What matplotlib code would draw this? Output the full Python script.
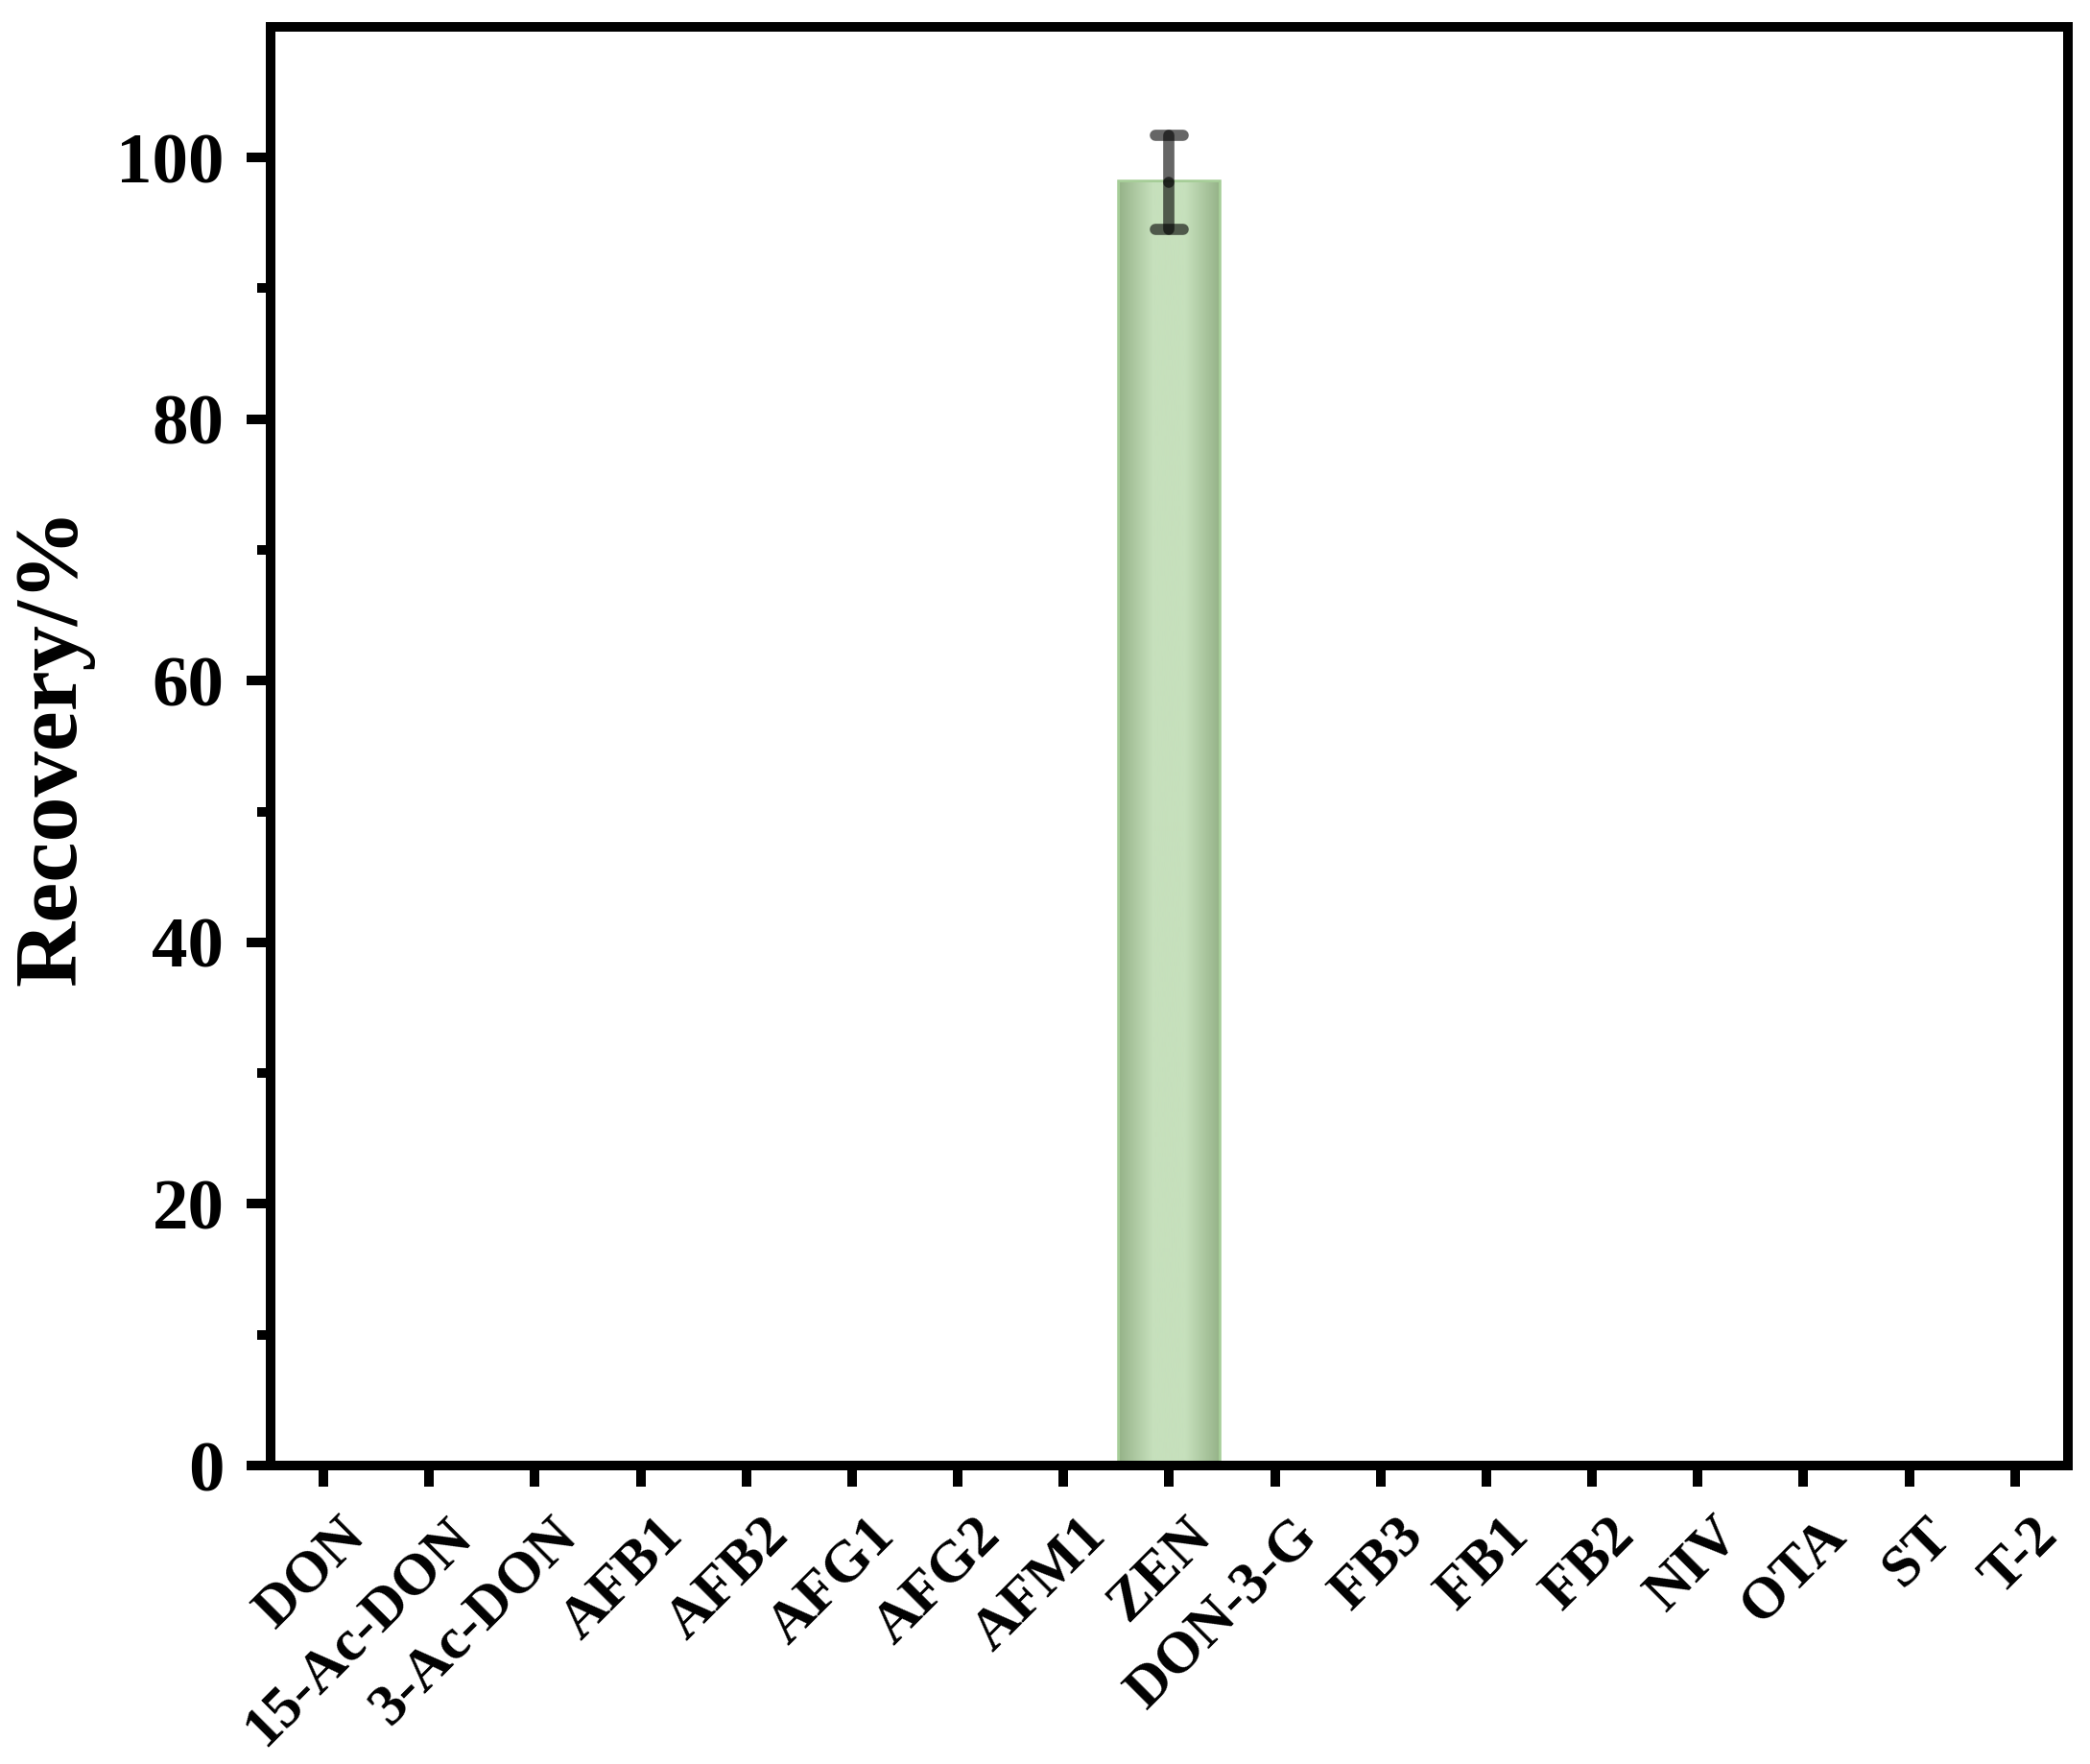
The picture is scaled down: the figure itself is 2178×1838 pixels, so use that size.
import numpy as np
import matplotlib
matplotlib.use("Agg")
import matplotlib.pyplot as plt
import matplotlib.transforms as mtransforms
from matplotlib.colors import LinearSegmentedColormap

FONT = 'Liberation Serif'
plt.rcParams['font.family'] = 'serif'
plt.rcParams['font.serif'] = [FONT]
plt.rcParams['font.weight'] = 'bold'

# data
toxins = ['DON', '15-Ac-DON', '3-Ac-DON', 'AFB1', 'AFB2', 'AFG1', 'AFG2', 'AFM1',
          'ZEN', 'DON-3-G', 'FB3', 'FB1', 'FB2', 'NIV', 'OTA', 'ST', 'T-2']
recovery = [0, 0, 0, 0, 0, 0, 0, 0, 98.1, 0, 0, 0, 0, 0, 0, 0, 0]
recovery_err = [0, 0, 0, 0, 0, 0, 0, 0, 3.6, 0, 0, 0, 0, 0, 0, 0, 0]

fig = plt.figure(figsize=(10.89, 9.19), dpi=200)
ax = fig.add_axes([0.1295, 0.1692, 0.8599, 0.8156])

x = np.arange(len(toxins))
width = 0.93
cap = 0.13
grad = LinearSegmentedColormap.from_list('g', ['#97b48a', '#c6e0bc', '#c6e0bc', '#97b48a'])
gradient = np.linspace(0, 1, 256).reshape(1, -1)

for xi, val, err in zip(x, recovery, recovery_err):
    if val <= 0:
        continue
    bar = ax.bar(xi, val, width=width, color='#c6e0bc', edgecolor='#a6cd98',
                 linewidth=2, zorder=2)[0]
    im = ax.imshow(gradient, aspect='auto', cmap=grad,
                   extent=(xi - width / 2, xi + width / 2, 0, val), zorder=2.5)
    im.set_clip_path(bar)
    # error bar: two half segments + caps, semi-transparent with round ends
    segs = [ax.vlines(xi, val, val + err), ax.vlines(xi, val - err, val),
            ax.hlines(val + err, xi - cap, xi + cap), ax.hlines(val - err, xi - cap, xi + cap)]
    for s in segs:
        s.set_color('black')
        s.set_alpha(0.6)
        s.set_linewidth(4.2)
        s.set_capstyle('round')
        s.set_zorder(3)

ax.set_xlim(-0.5, 16.5)
ax.set_ylim(0, 110)
ax.set_xticks(x)
ax.set_yticks([0, 20, 40, 60, 80, 100])
ax.set_yticks([10, 30, 50, 70, 90], minor=True)
ax.tick_params(axis='y', which='major', direction='out', length=9, width=3.6, pad=8.5)
ax.tick_params(axis='y', which='minor', direction='out', length=5, width=3.6)
ax.tick_params(axis='x', which='major', direction='out', length=8, width=3.6, pad=8)

ax.set_xticklabels(toxins, rotation=45, ha='right', va='top', rotation_mode='anchor',
                   fontsize=22, fontweight='bold', family=FONT)
# nudge rotated labels to the right (after tick_params, which resets transforms)
shift = mtransforms.ScaledTranslation(5.5 / 72, 0, fig.dpi_scale_trans)
for lbl in ax.get_xticklabels():
    lbl.set_transform(lbl.get_transform() + shift)
for lbl in ax.get_yticklabels():
    lbl.set_fontfamily(FONT)
    lbl.set_fontsize(27)
    lbl.set_fontweight('bold')
ax.set_ylabel('Recovery/%', fontsize=34, fontweight='bold', family=FONT, labelpad=8)

for s in ax.spines.values():
    s.set_linewidth(3.6)

fig.savefig('out.png', dpi=200)
